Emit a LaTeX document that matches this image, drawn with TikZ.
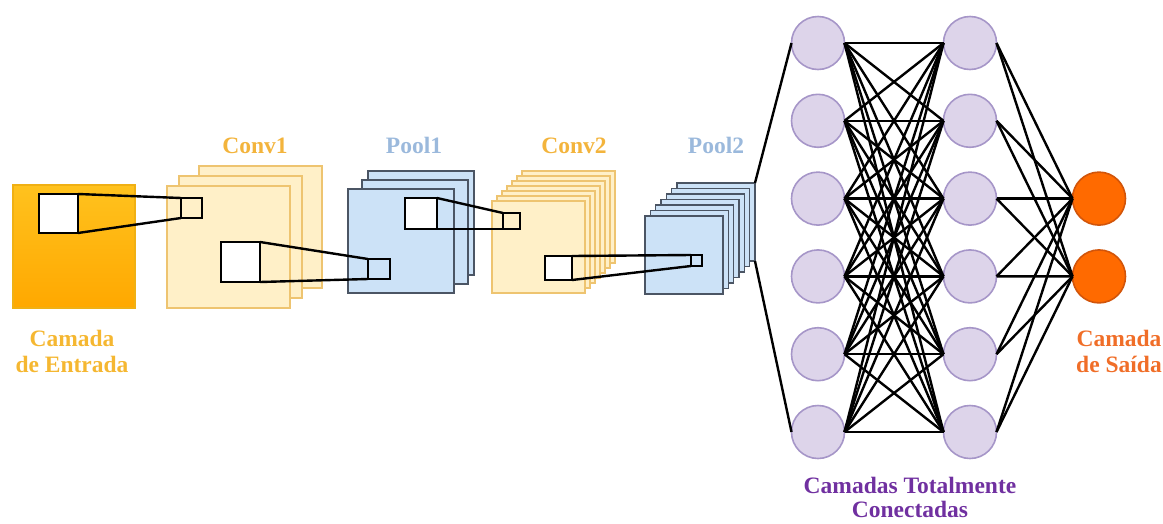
\documentclass[tikz,border=0pt]{standalone}
\usepackage{fontspec}
\setmainfont{Liberation Serif}
\definecolor{inTop}{RGB}{255,194,30}
\definecolor{inBot}{RGB}{255,168,0}
\definecolor{inLine}{RGB}{240,176,20}
\definecolor{convFill}{RGB}{255,240,200}
\definecolor{convLine}{RGB}{238,196,112}
\definecolor{poolFill}{RGB}{204,226,247}
\definecolor{poolLine}{RGB}{75,85,100}
\definecolor{fcFill}{RGB}{221,212,234}
\definecolor{fcLine}{RGB}{166,150,200}
\definecolor{outFill}{RGB}{255,106,0}
\definecolor{outLine}{RGB}{210,85,10}
\definecolor{convText}{RGB}{243,180,60}
\definecolor{poolText}{RGB}{155,185,220}
\definecolor{inText}{RGB}{245,183,49}
\definecolor{fcText}{RGB}{112,48,160}
\definecolor{outText}{RGB}{240,110,40}
\tikzset{
  sheet/.style={draw, line width=1.5pt, inner sep=0pt, outer sep=0pt, anchor=north west},
  convsheet/.style={sheet, fill=convFill, draw=convLine},
  poolsheet/.style={sheet, fill=poolFill, draw=poolLine},
  inputsq/.style={sheet, top color=inTop, bottom color=inBot, draw=inLine},
  patch/.style={draw=black, line width=2.8pt, fill=white, inner sep=0pt, outer sep=0pt, anchor=north west},
  tbox/.style={draw=black, line width=2.8pt, inner sep=0pt, outer sep=0pt, anchor=north west},
  link/.style={line width=2.4pt, black},
  fc/.style={circle, draw=fcLine, fill=fcFill, line width=1.6pt, minimum size=53pt, inner sep=0pt, outer sep=0pt},
  outn/.style={circle, draw=outLine, fill=outFill, line width=1.6pt, minimum size=53pt, inner sep=0pt, outer sep=0pt},
  lbl/.style={font=\bfseries\fontsize{23.5}{26}\selectfont, inner sep=0pt, align=center},
}
\begin{document}
\begin{tikzpicture}[x=1pt, y=-1pt]
\useasboundingbox (0,0) rectangle (1163,523);

% input layer
\node[inputsq, minimum width=122pt, minimum height=123pt] (in) at (13,185) {};

% Conv1 feature maps (back to front)
\node[convsheet, minimum width=123pt, minimum height=122pt] (c1s3) at (199,166) {};
\node[convsheet, minimum width=123pt, minimum height=122pt] (c1s2) at (179,176) {};
\node[convsheet, minimum width=123pt, minimum height=122pt] (c1s1) at (167,186) {};

% Pool1 feature maps
\node[poolsheet, minimum width=106pt, minimum height=104pt] (p1s3) at (368,171) {};
\node[poolsheet, minimum width=106pt, minimum height=104pt] (p1s2) at (362,180) {};
\node[poolsheet, minimum width=106pt, minimum height=104pt] (p1s1) at (348,189) {};

% Conv2 feature maps
\foreach \k in {6,...,0}
  \node[convsheet, minimum width=93pt, minimum height=92pt] (c2s\k) at ({492+5*\k},{201-5*\k}) {};

% Pool2 feature maps
\foreach \k in {6,...,0}
  \node[poolsheet, minimum width=78pt, minimum height=78pt] (p2s\k) at ({645+5.33*\k},{216-5.5*\k}) {};

% receptive fields and their targets
\node[patch, minimum width=39pt, minimum height=39pt] (inpatch) at (39,194) {};
\node[tbox, minimum width=21pt, minimum height=20pt] (c1t) at (181,198) {};
\node[patch, minimum width=39pt, minimum height=40pt] (c1patch) at (221,242) {};
\node[tbox, minimum width=22pt, minimum height=20pt] (p1t) at (368,259) {};
\node[patch, minimum width=32pt, minimum height=31pt] (p1patch) at (405,198) {};
\node[tbox, minimum width=17pt, minimum height=16pt] (c2t) at (503,213) {};
\node[patch, minimum width=27pt, minimum height=24pt] (c2patch) at (545,256) {};
\node[tbox, minimum width=11pt, minimum height=11pt] (p2t) at (691,255) {};

\draw[link] (inpatch.north east) -- (c1t.north west);
\draw[link] (inpatch.south east) -- (c1t.south west);
\draw[link] (c1patch.north east) -- (p1t.north west);
\draw[link] (c1patch.south east) -- (p1t.south west);
\draw[link] (p1patch.north east) -- (c2t.north west);
\draw[link] (p1patch.south east) -- (c2t.south west);
\draw[link] (c2patch.north east) -- (p2t.north west);
\draw[link] (c2patch.south east) -- (p2t.south west);

% fully connected layers
\foreach \i in {1,...,6} {
  \node[fc] (a\i) at (818,{43+77.8*(\i-1)}) {};
  \node[fc] (b\i) at (970,{43+77.8*(\i-1)}) {};
}
\node[outn] (o1) at (1099,198.6) {};
\node[outn] (o2) at (1099,276.4) {};

\draw[link] (p2s6.north east) -- (a1.west);
\draw[link] (p2s6.south east) -- (a6.west);
\foreach \i in {1,...,6} {
  \foreach \j in {1,...,6}
    \draw[link] (a\i.east) -- (b\j.west);
  \draw[link] (b\i.east) -- (o1.west);
  \draw[link] (b\i.east) -- (o2.west);
}

% labels
\node[lbl, text=convText, anchor=base] (lc1) at (255,153) {Conv1};
\node[lbl, text=poolText, anchor=base] (lp1) at (414,153) {Pool1};
\node[lbl, text=convText, anchor=base] (lc2) at (574,153) {Conv2};
\node[lbl, text=poolText, anchor=base] (lp2) at (716,153) {Pool2};
\node[lbl, text=inText] (lin) at (72,351) {Camada\\de Entrada};
\node[lbl, text=outText] (lout) at (1119,351) {Camada\\de Saída};
\node[lbl, text=fcText, font=\bfseries\fontsize{23.5}{24}\selectfont] (lfc) at (910,497) {Camadas Totalmente\\Conectadas};
\end{tikzpicture}
\end{document}
